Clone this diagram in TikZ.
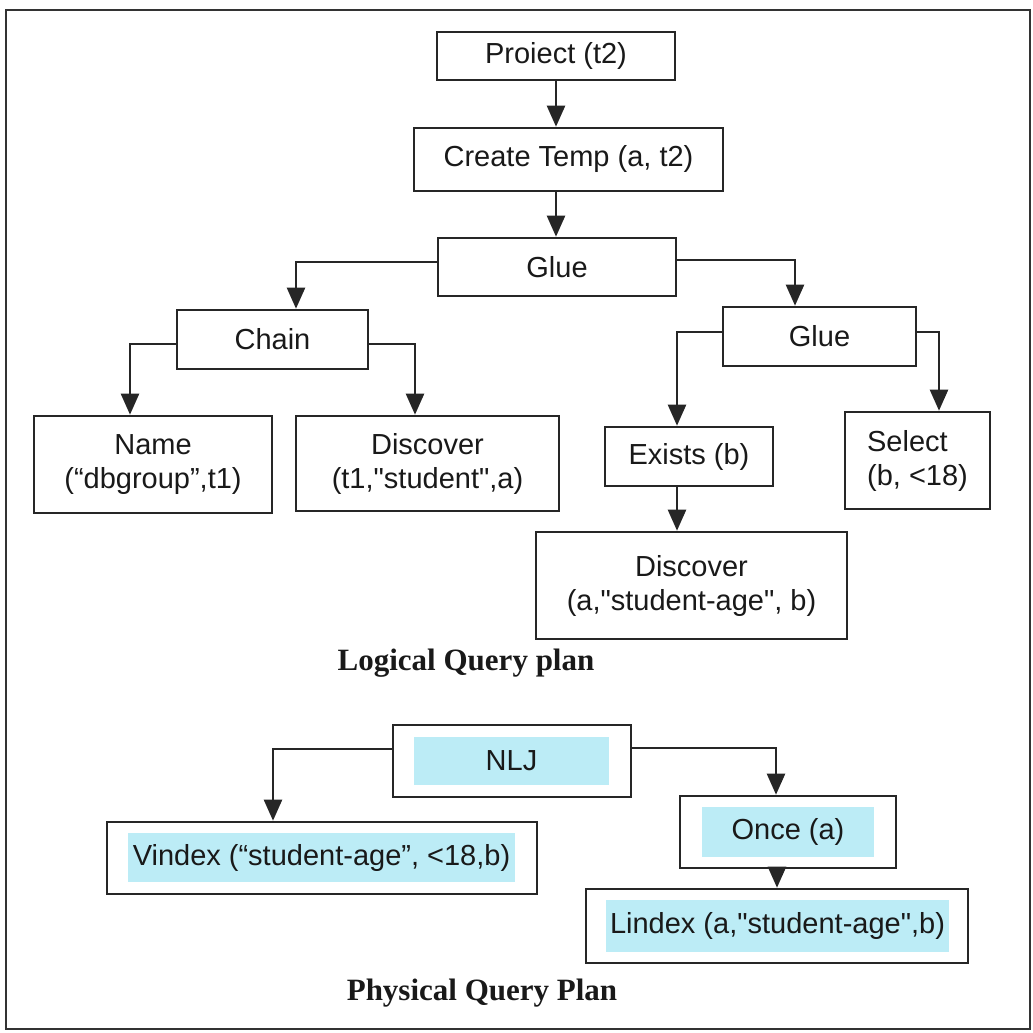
\documentclass[tikz,border=0pt]{standalone}
\usepackage{fontspec}
\setmainfont{Liberation Sans}
\newfontfamily\capfont{Liberation Serif}
\usetikzlibrary{arrows.meta}
\definecolor{planblue}{RGB}{188,236,246}
\newcommand\planfont{\fontsize{29}{34}\selectfont}
\newcommand\capsize{\fontsize{31}{36}\selectfont}
\newcommand\sq{\textquotedbl}

\begin{document}
\begin{tikzpicture}[x=1pt,y=-1pt,
    box/.style={draw=black!85, line width=2.6pt, inner sep=0pt, align=center,
      font=\planfont, text=black!90},
    hl/.style={fill=planblue, inner sep=0pt, font=\planfont, text=black!90},
    arr/.style={draw=black!85, line width=2.4pt, -{Triangle[width=18pt,length=21pt]}},
    caption/.style={font=\capfont\bfseries\capsize, text=black!90}]
  \useasboundingbox (0,0) rectangle (1033,1033);
  % Outer frame
  \draw[line width=1.8pt, black!80] (6,10) rectangle (1030,1029);
  % Logical query plan
  \node[box, minimum width=238, minimum height=48] (proj) at (556,56) {Proiect (t2)};
  \node[box, minimum width=309, minimum height=63] (temp) at (568.5,159.5) {Create Temp (a, t2)};
  \node[box, minimum width=238, minimum height=58] (glue) at (557,267) {Glue};
  \node[box, minimum width=191, minimum height=59] (chain) at (272.5,339.5) {Chain};
  \node[box, minimum width=193, minimum height=59] (glue2) at (819.5,336.5) {Glue};
  \node[box, minimum width=238, minimum height=97] (name) at (153,464.5) {Name\\(“dbgroup”,t1)};
  \node[box, minimum width=263, minimum height=95] (disc1) at (427.5,463.5) {Discover\\(t1,\sq student\sq,a)};
  \node[box, minimum width=168, minimum height=59] (exists) at (689,456.5) {Exists (b)};
  \node[box, align=left, minimum width=145, minimum height=97] (select) at (917.5,460.5) {Select\\(b, <18)};
  \node[box, minimum width=311, minimum height=107] (disc2) at (691.5,585.5) {Discover\\(a,\sq student-age\sq, b)};
  \node[caption] (logcap) at (466,663) {Logical Query plan};
  % Arrows of the logical plan
  \draw[arr] (proj) -- (proj |- temp.north);
  \draw[arr] (proj |- temp.south) -- (proj |- glue.north);
  \draw[arr] ([yshift=5pt]glue.west) -| ([xshift=23.5pt]chain.north);
  \draw[arr] ([yshift=7pt]glue.east) -| ([xshift=-24.5pt]glue2.north);
  \draw[arr] ([yshift=-4.5pt]chain.west) -| ([xshift=-23pt]name.north);
  \draw[arr] ([yshift=-4.5pt]chain.east) -| ([xshift=-12.5pt]disc1.north);
  \draw[arr] ([yshift=4.5pt]glue2.west) -| ([xshift=-12pt]exists.north);
  \draw[arr] ([yshift=4.5pt]glue2.east) -| ([xshift=21.5pt]select.north);
  \draw[arr] ([xshift=-12pt]exists.south) -- ([xshift=-12pt]exists.south |- disc2.north);
  % Physical query plan
  \node[box, minimum width=238, minimum height=72] (nlj) at (512,761) {};
  \node[hl, minimum width=195, minimum height=48] (nljhl) at (511.5,761) {NLJ};
  \node[box, minimum width=430, minimum height=72] (vindex) at (322,858) {};
  \node[hl, minimum width=387, minimum height=49] (vindexhl) at (321.5,857.5) {Vindex (“student-age”, <18,b)};
  \node[box, minimum width=216, minimum height=72] (once) at (788,832) {};
  \node[hl, minimum width=172, minimum height=50] (oncehl) at (788,832) {Once (a)};
  \node[box, minimum width=382, minimum height=74] (lindex) at (777,926) {};
  \node[hl, minimum width=343, minimum height=52] (lindexhl) at (777.5,926) {Lindex (a,\sq student-age\sq,b)};
  \node[caption] (phycap) at (482,993) {Physical Query Plan};
  % Arrows of the physical plan
  \draw[arr] ([yshift=12pt]nlj.west) -| ([xshift=-49pt]vindex.north);
  \draw[arr] ([yshift=13pt]nlj.east) -| ([xshift=-12pt]once.north);
  \draw[arr] ([xshift=-11pt]once.south) -- ([xshift=-11pt]once.south |- lindex.north);
\end{tikzpicture}
\end{document}
